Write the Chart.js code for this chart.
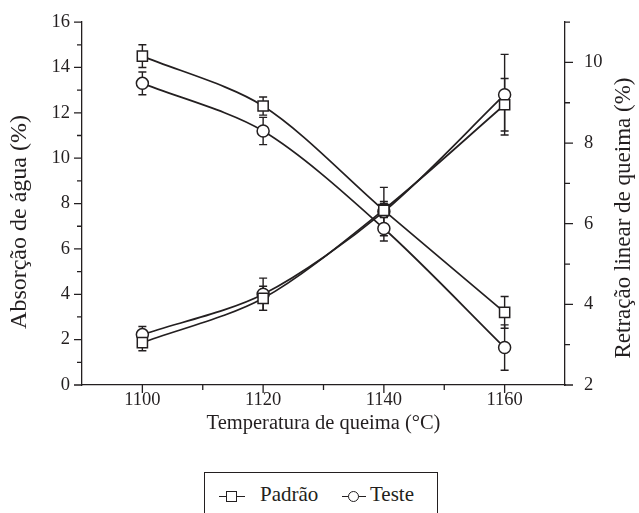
<!DOCTYPE html>
<html>
<head>
<meta charset="utf-8">
<script src="https://cdn.jsdelivr.net/npm/chart.js@4.4.0/dist/chart.umd.min.js"></script>
<style>
  body { margin: 0; background: #fff; width: 639px; height: 513px; overflow: hidden; position: relative; font-family: "Liberation Serif", "Times New Roman", serif; color: #231f20; }
  #grafico { position: absolute; left: 0; top: 0; }
  #legenda { position: absolute; left: 204px; top: 472px; width: 234px; height: 60px; border: 1.4px solid #231f20; box-sizing: border-box; }
  .item { position: absolute; top: 9px; font-size: 21px; line-height: 24px; }
  .simbolo { position: absolute; top: 23px; height: 0; border-top: 1.6px solid #231f20; }
  .marca { position: absolute; width: 9px; height: 9px; border: 1.6px solid #231f20; background: #fff; }
</style>
</head>
<body>
<canvas id="grafico" width="639" height="460"></canvas>
<div id="legenda">
  <div class="simbolo" style="left:14px;width:26px"></div>
  <div class="marca" style="left:21px;top:18px"></div>
  <div class="item" style="left:55px">Padrão</div>
  <div class="simbolo" style="left:137px;width:24px"></div>
  <div class="marca" style="left:143px;top:18px;border-radius:50%"></div>
  <div class="item" style="left:165px">Teste</div>
</div>
<script>
// dados
const temperaturas = [1100, 1120, 1140, 1160];
const absPadrao = [14.5, 12.3, 7.7, 3.2];
const absPadraoErro = [0.5, 0.4, 0.3, 0.7];
const absTeste = [13.3, 11.2, 6.9, 1.65];
const absTesteErro = [0.5, 0.6, 0.55, 1.0];
const retPadrao = [3.05, 4.15, 6.35, 8.95];
const retPadraoErro = [0.2, 0.3, 0.2, 0.65];
const retTeste = [3.25, 4.25, 6.3, 9.2];
const retTesteErro = [0.2, 0.4, 0.6, 1.0];

const cor = '#231f20';
const fonte = '"Liberation Serif", "Times New Roman", serif';

function serie(nome, valores, erros, eixo, estilo) {
  return {
    label: nome,
    data: temperaturas.map((t, i) => ({ x: t, y: valores[i] })),
    erros: erros,
    yAxisID: eixo,
    borderColor: cor,
    borderWidth: 1.7,
    backgroundColor: '#fff',
    pointStyle: estilo,
    pointRadius: estilo === 'rect' ? 7.2 : 6,
    pointHoverRadius: estilo === 'rect' ? 7.2 : 6,
    pointBorderWidth: 1.5,
    pointBackgroundColor: '#fff',
    pointBorderColor: cor,
    tension: 0.3,
    fill: false
  };
}

// barras de erro desenhadas com as escalas do chart
const barrasErro = {
  id: 'barrasErro',
  beforeDatasetsDraw(chart) {
    const ctx = chart.ctx;
    ctx.save();
    ctx.strokeStyle = cor;
    ctx.lineWidth = 1.4;
    chart.data.datasets.forEach(ds => {
      const escala = chart.scales[ds.yAxisID];
      ds.data.forEach((p, i) => {
        const px = chart.scales.x.getPixelForValue(p.x);
        const y1 = escala.getPixelForValue(p.y + ds.erros[i]);
        const y2 = escala.getPixelForValue(p.y - ds.erros[i]);
        ctx.beginPath();
        ctx.moveTo(px, y1); ctx.lineTo(px, y2);
        ctx.moveTo(px - 4, y1); ctx.lineTo(px + 4, y1);
        ctx.moveTo(px - 4, y2); ctx.lineTo(px + 4, y2);
        ctx.stroke();
      });
    });
    ctx.restore();
  }
};

// marcas de escala maiores e menores, para fora
const marcas = {
  id: 'marcas',
  afterDraw(chart) {
    const { ctx, scales: { x, y, y1 } } = chart;
    ctx.save();
    ctx.strokeStyle = cor;
    ctx.lineWidth = 1.3;
    ctx.beginPath();
    x.ticks.forEach(t => {
      if (t.value === x.min || t.value === x.max) return;
      const px = x.getPixelForValue(t.value);
      const l = t.value % 20 === 0 ? 8 : 5;
      ctx.moveTo(px, x.top); ctx.lineTo(px, x.top + l);
    });
    y.ticks.forEach(t => {
      const py = y.getPixelForValue(t.value);
      const l = t.value % 2 === 0 ? 8 : 5;
      ctx.moveTo(y.right, py); ctx.lineTo(y.right - l, py);
    });
    y1.ticks.forEach(t => {
      const py = y1.getPixelForValue(t.value);
      const l = t.value % 2 === 0 ? 8 : 5;
      ctx.moveTo(y1.left, py); ctx.lineTo(y1.left + l, py);
    });
    ctx.stroke();

    // titulos dos eixos
    ctx.fillStyle = cor;
    ctx.textAlign = 'center';
    ctx.textBaseline = 'middle';
    ctx.font = '20.5px ' + fonte;
    ctx.fillText('Temperatura de queima (°C)', (x.left + x.right) / 2, 424);
    ctx.font = '24px ' + fonte;
    ctx.save();
    ctx.translate(20, 222);
    ctx.rotate(-Math.PI / 2);
    ctx.fillText('Absorção de água (%)', 0, 0);
    ctx.restore();
    ctx.font = '23px ' + fonte;
    ctx.save();
    ctx.translate(624, 218);
    ctx.rotate(-Math.PI / 2);
    ctx.fillText('Retração linear de queima (%)', 0, 0);
    ctx.restore();
    ctx.restore();
  }
};

const eixoBase = {
  grid: { display: false, drawTicks: true, tickLength: 8 },
  border: { display: true, color: cor, width: 1.3 }
};

new Chart(document.getElementById('grafico'), {
  type: 'line',
  data: {
    datasets: [
      serie('Padrão', absPadrao, absPadraoErro, 'y', 'rect'),
      serie('Teste', absTeste, absTesteErro, 'y', 'circle'),
      serie('Padrão', retPadrao, retPadraoErro, 'y1', 'rect'),
      serie('Teste', retTeste, retTesteErro, 'y1', 'circle')
    ]
  },
  options: {
    responsive: false,
    animation: false,
    layout: { padding: { top: 20 } },
    plugins: { legend: { display: false }, tooltip: { enabled: false } },
    scales: {
      x: Object.assign({}, eixoBase, {
        type: 'linear',
        min: 1090, max: 1170,
        grid: { display: false, drawTicks: true, tickLength: 4 },
        ticks: {
          stepSize: 10, padding: 0, color: cor, maxRotation: 0, autoSkip: false,
          font: { family: fonte, size: 18.5 },
          callback: v => (v % 20 === 0 ? v : '')
        },
        afterFit: s => { s.height = 75; }
      }),
      y: Object.assign({}, eixoBase, {
        position: 'left',
        min: 0, max: 16,
        ticks: {
          stepSize: 1, padding: 4, color: cor, autoSkip: false,
          font: { family: fonte, size: 18.5 },
          callback: v => (v % 2 === 0 ? v : '')
        },
        afterFit: s => { s.width = 82; }
      }),
      y1: Object.assign({}, eixoBase, {
        position: 'right',
        min: 2, max: 11,
        ticks: {
          stepSize: 1, padding: 11, color: cor, autoSkip: false,
          font: { family: fonte, size: 18.5 },
          callback: v => (v % 2 === 0 ? v : '')
        },
        afterFit: s => { s.width = 74; }
      })
    }
  },
  plugins: [barrasErro, marcas]
});
</script>
</body>
</html>
